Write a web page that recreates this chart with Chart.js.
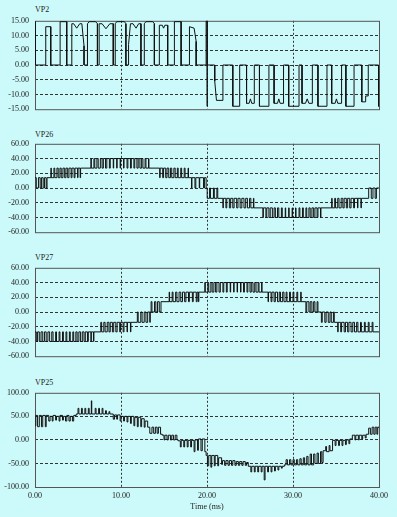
<!DOCTYPE html>
<html>
<head>
<meta charset="utf-8">
<script src="https://cdn.jsdelivr.net/npm/chart.js@4.4.1/dist/chart.umd.min.js"></script>
<style>
body { margin:0; background:#ccfafa; width:397px; height:517px; position:relative; overflow:hidden; font-family:"Liberation Serif", serif; }
canvas { position:absolute; left:0; }
.lbl { position:absolute; left:35px; font-size:8px; line-height:8px; color:#222; }
</style>
</head>
<body>
<div class="lbl" style="top:6px">VP2</div>
<canvas id="vp2" width="397" height="110" style="top:10px"></canvas>
<div class="lbl" style="top:131px">VP26</div>
<canvas id="vp26" width="397" height="110" style="top:133px"></canvas>
<div class="lbl" style="top:254px">VP27</div>
<canvas id="vp27" width="397" height="110" style="top:257px"></canvas>
<div class="lbl" style="top:379px">VP25</div>
<canvas id="vp25" width="397" height="135" style="top:382px"></canvas>
<script>
// tick labels
var xTicks = [0, 10, 20, 30, 40];
var vp2Ticks = [-15, -10, -5, 0, 5, 10, 15];
var vp26Ticks = [-60, -40, -20, 0, 20, 40, 60];
var vp27Ticks = [-60, -40, -20, 0, 20, 40, 60];
var vp25Ticks = [-100, -50, 0, 50, 100];

// VP2 - cell output, drawn point to point (edges are pairs of equal times)
var vp2T = [0, 0.03, 1.25, 1.25, 1.83, 1.83, 2.92, 2.92, 3.69, 3.69,
  4.28, 4.28, 4.5, 4.85, 5.2, 5.45, 5.7, 5.7,
  6.1, 6.1, 6.3, 7.05, 7.26, 7.26,
  7.46, 7.46, 7.8, 8.25, 8.7, 9.1, 9.1,
  9.33, 9.33, 9.5, 10.4, 10.57, 10.57,
  10.88, 10.88, 11.1, 11.4, 11.75, 12.05, 12.32, 12.32,
  12.71, 12.71, 12.9, 13.7, 13.88, 13.88,
  14.46, 14.46, 14.8, 14.95, 15.1, 15.43, 15.43,
  16.21, 16.21, 16.99, 16.99,
  17.96, 17.96, 18.5, 18.74, 18.74,
  19.9, 19.9, 20.0, 20.0, 20.05,
  20.9, 20.9, 21.1, 21.85, 21.85,
  23.0, 23.0, 23.8, 23.8,
  24.6, 24.6, 24.9, 25.05, 25.2, 25.5, 25.5,
  26.1, 26.1, 27.2, 27.2,
  27.8, 27.8, 28.2, 28.35, 28.5, 28.9, 28.9,
  29.5, 29.5, 30.7, 30.7,
  31.05, 31.05, 31.45, 31.65, 31.85, 32.25, 32.25,
  32.9, 32.9, 33.95, 33.95,
  34.5, 34.5, 34.9, 35.05, 35.2, 35.65, 35.65,
  36.15, 36.15, 37.1, 37.1,
  38.0, 38.0, 38.45, 38.45, 38.75, 38.75,
  39.95, 39.95, 40];
var vp2V = [14.7, 0, 0, 13, 13, 0, 0, 14.7, 14.7, 0,
  0, 14, 14, 12.5, 14, 14, 6.5, 0,
  0, 14, 14.7, 14.7, 14, 0,
  0, 14, 14, 12.3, 14, 14, 0,
  0, 14, 14.7, 14.7, 14, 0,
  0, 7, 14, 14, 12.5, 14, 14, 0,
  0, 14, 14.7, 14.7, 14, 0,
  0, 13.5, 13.5, 12.5, 13.5, 13.5, 0,
  0, 14.7, 14.7, 0,
  0, 13, 12.5, 8, 0,
  0, 15, 15, -14, 0,
  0, -5.5, -12, -12, 0,
  0, -14, -14, 0,
  0, -13, -13, -11.5, -13, -13, 0,
  0, -14, -14, 0,
  0, -13, -13, -11.5, -13, -13, 0,
  0, -14, -14, 0,
  0, -13, -13, -11.5, -13, -13, 0,
  0, -14, -14, 0,
  0, -13, -13, -11.5, -13, -13, 0,
  0, -14, -14, 0,
  0, -12.5, -12.5, -10.5, -10.5, 0,
  0, -14, -14];

// VP26 - stepped, each value holds until the next time
var vp26T = [0, 0.15, 0.4, 0.6, 0.75, 0.95, 1.1, 1.3, 1.4, 1.85,
  1.9, 2.2, 2.3, 2.55, 2.7, 2.9, 3.05, 3.25, 3.45, 3.6,
  3.8, 3.95, 4.2, 4.3, 4.55, 4.65, 4.95, 5.0, 5.25, 5.3,
  6.5, 6.55, 6.85, 6.95, 7.2, 7.35, 7.6, 7.8, 7.95, 8.2,
  8.35, 8.65, 8.75, 9.1, 9.15, 9.5, 9.55, 9.9, 9.95, 10.3,
  10.35, 10.7, 10.8, 11.1, 11.2, 11.5, 11.6, 11.85, 12.0, 12.2,
  12.4, 12.55, 12.8, 12.9, 13.2, 13.25, 14.5, 14.55, 14.85, 14.95,
  15.2, 15.35, 15.55, 15.75, 15.9, 16.15, 16.3, 16.55, 16.65, 16.95,
  17.05, 17.35, 17.45, 17.8, 17.85, 18.2, 18.25, 18.6, 18.7, 19.1,
  19.15, 19.6, 19.7, 19.9, 20.02, 20.3, 20.4, 20.75, 20.85, 21.15,
  21.25, 21.85, 21.9, 22.2, 22.3, 22.6, 22.75, 23.0, 23.15, 23.45,
  23.6, 23.85, 24.05, 24.3, 24.5, 24.7, 24.95, 25.1, 25.4, 25.45,
  26.5, 26.55, 26.85, 26.95, 27.2, 27.35, 27.6, 27.8, 27.95, 28.2,
  28.35, 28.65, 28.75, 29.1, 29.15, 29.5, 29.55, 29.9, 29.95, 30.3,
  30.35, 30.7, 30.8, 31.1, 31.2, 31.5, 31.6, 31.85, 32.0, 32.2,
  32.4, 32.55, 32.8, 32.9, 33.2, 33.25, 34.5, 34.55, 34.85, 34.95,
  35.2, 35.35, 35.6, 35.8, 35.95, 36.2, 36.35, 36.6, 36.75, 37.05,
  37.15, 37.5, 37.55, 37.9, 37.95, 38.8, 39.1, 39.3, 39.55, 39.7,
  40];
var vp26V = [14, 0, 14, 0, 14, 0, 14, 0, 14, 27,
  14, 27, 14, 27, 14, 27, 14, 27, 14, 27,
  14, 27, 14, 27, 14, 27, 14, 27, 14, 27,
  40, 27, 40, 27, 40, 27, 40, 27, 40, 27,
  40, 27, 40, 27, 40, 27, 40, 27, 40, 27,
  40, 27, 40, 27, 40, 27, 40, 27, 40, 27,
  40, 27, 40, 27, 40, 27, 14, 27, 14, 27,
  14, 27, 14, 27, 14, 27, 14, 27, 14, 27,
  14, 27, 14, 27, 14, 0, 14, 0, 14, 0,
  14, 0, 14, 0, -14, 0, -14, 0, -14, 0,
  -14, -27, -14, -27, -14, -27, -14, -27, -14, -27,
  -14, -27, -14, -27, -14, -27, -14, -27, -14, -27,
  -40, -27, -40, -27, -40, -27, -40, -27, -40, -27,
  -40, -27, -40, -27, -40, -27, -40, -27, -40, -27,
  -40, -27, -40, -27, -40, -27, -40, -27, -40, -27,
  -40, -27, -40, -27, -40, -27, -14, -27, -14, -27,
  -14, -27, -14, -27, -14, -27, -14, -27, -14, -27,
  -14, -27, -14, -27, -14, 0, -14, 0, -14, 0,
  0];

// VP27 - stepped
var vp27T = [0, 0.15, 0.3, 0.5, 0.7, 0.9, 1.1, 1.3, 1.5, 1.7,
  1.95, 2.1, 2.4, 2.5, 2.8, 2.9, 3.2, 3.3, 3.6, 3.7,
  4.0, 4.1, 4.4, 4.5, 4.75, 4.9, 5.1, 5.3, 5.5, 5.7,
  5.85, 6.1, 6.2, 6.5, 6.55, 6.8, 6.85, 7.65, 7.75, 8.0,
  8.15, 8.4, 8.6, 8.75, 9.0, 9.15, 9.4, 9.55, 9.85, 9.95,
  10.25, 10.35, 10.7, 10.75, 11.1, 11.15, 11.9, 12.0, 12.3, 12.45,
  12.7, 12.9, 13.1, 13.35, 13.4, 13.5, 13.6, 13.9, 14.05, 14.25,
  14.45, 14.65, 15.6, 15.65, 15.95, 16.05, 16.35, 16.5, 16.75, 16.95,
  17.15, 17.4, 17.55, 17.85, 17.95, 18.3, 18.4, 18.75, 18.85, 19.0,
  19.05, 19.75, 19.8, 20.1, 20.2, 20.45, 20.6, 20.8, 21.0, 21.15,
  21.4, 21.55, 21.85, 21.95, 22.25, 22.35, 22.7, 22.75, 23.1, 23.15,
  23.5, 23.55, 23.9, 23.95, 24.25, 24.35, 24.65, 24.75, 25.0, 25.15,
  25.35, 25.55, 25.7, 25.95, 26.05, 26.35, 26.4, 27.1, 27.15, 27.45,
  27.55, 27.8, 27.95, 28.2, 28.4, 28.55, 28.8, 28.95, 29.2, 29.3,
  29.6, 29.7, 30.0, 30.1, 30.45, 30.55, 30.9, 30.95, 31.5, 31.6,
  31.85, 32.0, 32.2, 32.4, 32.55, 32.8, 32.9, 33.3, 33.4, 33.7,
  33.85, 34.1, 34.3, 34.45, 34.7, 34.8, 35.2, 35.25, 35.55, 35.65,
  35.95, 36.1, 36.35, 36.5, 36.75, 36.95, 37.15, 37.4, 37.55, 37.85,
  37.95, 38.3, 38.4, 38.75, 38.85, 39.2, 39.3, 40];
var vp27V = [-27, -40, -27, -40, -27, -40, -27, -40, -27, -40,
  -27, -40, -27, -40, -27, -40, -27, -40, -27, -40,
  -27, -40, -27, -40, -27, -40, -27, -40, -27, -40,
  -27, -40, -27, -40, -27, -40, -27, -14, -27, -14,
  -27, -14, -27, -14, -27, -14, -27, -14, -27, -14,
  -27, -14, -27, -14, -27, -14, 0, -14, 0, -14,
  0, -14, 0, -14, 0, 14, 0, 14, 0, 14,
  0, 14, 27, 14, 27, 14, 27, 14, 27, 14,
  27, 14, 27, 14, 27, 14, 27, 14, 27, 14,
  27, 40, 27, 40, 27, 40, 27, 40, 27, 40,
  27, 40, 27, 40, 27, 40, 27, 40, 27, 40,
  27, 40, 27, 40, 27, 40, 27, 40, 27, 40,
  27, 40, 27, 40, 27, 40, 27, 14, 27, 14,
  27, 14, 27, 14, 27, 14, 27, 14, 27, 14,
  27, 14, 27, 14, 27, 14, 27, 14, 0, 14,
  0, 14, 0, 14, 0, 14, 0, -14, 0, -14,
  0, -14, 0, -14, 0, -14, -27, -14, -27, -14,
  -27, -14, -27, -14, -27, -14, -27, -14, -27, -14,
  -27, -14, -27, -14, -27, -14, -27, -27];

// VP25 - stepped
var vp25T = [0, 0.1, 0.3, 0.5, 0.75, 0.9, 1.2, 1.3, 1.6, 1.75,
  2.0, 2.1, 2.4, 2.5, 2.8, 2.9, 3.2, 3.3, 3.55, 3.7,
  3.95, 4.1, 4.35, 4.5, 4.8, 5.0, 5.1, 5.4, 5.5, 5.8,
  5.9, 6.2, 6.3, 6.55, 6.6, 7.0, 7.1, 7.4, 7.5, 7.8,
  7.9, 8.2, 8.3, 8.6, 8.7, 9.1, 9.25, 9.5, 9.6, 9.9,
  10.0, 10.3, 10.4, 10.7, 10.8, 11.1, 11.2, 11.5, 11.6, 11.9,
  12.0, 12.3, 12.4, 12.7, 12.8, 13.1, 13.35, 13.6, 13.8, 14.0,
  14.2, 14.35, 14.6, 14.8, 15.0, 15.1, 15.35, 15.5, 15.75, 15.9,
  16.1, 16.3, 16.5, 16.65, 16.9, 17.0, 17.3, 17.4, 17.7, 17.8,
  18.1, 18.2, 18.5, 18.6, 18.9, 19.0, 19.3, 19.45, 19.75, 19.9,
  20.05, 20.2, 20.45, 20.55, 20.85, 20.95, 21.25, 21.35, 21.7, 21.8,
  22.05, 22.2, 22.45, 22.6, 22.85, 23.0, 23.25, 23.4, 23.65, 23.8,
  24.05, 24.2, 24.45, 24.6, 24.8, 25.1, 25.2, 25.5, 25.6, 25.9,
  26.0, 26.3, 26.4, 26.65, 26.75, 27.05, 27.15, 27.45, 27.55, 27.85,
  27.95, 28.25, 28.35, 28.65, 28.75, 29.0, 29.2, 29.35, 29.6, 29.75,
  30.0, 30.15, 30.4, 30.55, 30.8, 30.95, 31.2, 31.35, 31.6, 31.75,
  32.0, 32.15, 32.4, 32.55, 32.8, 32.95, 33.2, 33.35, 33.5, 33.8,
  33.9, 34.2, 34.3, 34.6, 34.9, 35.0, 35.3, 35.4, 35.7, 35.8,
  36.1, 36.2, 36.5, 36.6, 36.9, 37.2, 37.3, 37.6, 37.7, 38.0,
  38.1, 38.4, 38.5, 38.8, 39.0, 39.2, 39.4, 39.55, 39.75, 39.85,
  40];
var vp25V = [30, 52, 28, 52, 28, 52, 28, 52, 40, 50,
  40, 52, 42, 50, 40, 52, 42, 50, 40, 52,
  40, 50, 40, 52, 55, 67, 55, 67, 55, 67,
  55, 67, 55, 83, 55, 67, 55, 67, 55, 67,
  55, 62, 55, 60, 55, 44, 53, 44, 53, 40,
  50, 40, 50, 38, 50, 35, 50, 30, 48, 28,
  48, 28, 45, 27, 40, 27, 14, 27, 14, 27,
  14, 27, 12, 10, 0, 10, 0, 10, 0, 10,
  0, 10, 0, -2, -15, -1, -15, -1, -15, -1,
  -15, -1, -25, 0, -22, 2, -23, 2, -25, -33,
  -55, -33, -58, -33, -55, -33, -55, -38, -52, -44,
  -54, -44, -54, -44, -54, -44, -54, -46, -54, -46,
  -54, -46, -54, -48, -56, -68, -56, -68, -56, -68,
  -56, -68, -56, -85, -56, -68, -56, -68, -56, -66,
  -56, -64, -56, -60, -56, -53, -42, -53, -42, -53,
  -42, -53, -42, -53, -40, -53, -38, -53, -35, -53,
  -30, -53, -30, -50, -28, -50, -25, -48, -23, -14,
  -25, -12, -23, -1, -12, -1, -12, -1, -12, -1,
  -10, 0, -8, 2, 10, 0, 10, 0, 10, 2,
  10, 4, 12, 25, 12, 27, 12, 27, 12, 27,
  25];

var tickFont = { family: 'Liberation Serif', size: 8 };

// plot box
var frame = {
  id: 'frame',
  beforeDatasetsDraw: function(chart) {
    var a = chart.chartArea, c = chart.ctx;
    c.save();
    c.strokeStyle = '#555';
    c.lineWidth = 1;
    c.strokeRect(a.left + 0.5, a.top + 0.5, a.right - a.left, a.bottom - a.top);
    c.restore();
  }
};

function inner(ticks) {
  var lo = ticks[0], hi = ticks[ticks.length - 1];
  return function(ctx) {
    if (!ctx.tick) return 'rgba(0,0,0,0)';
    return (ctx.tick.value === lo || ctx.tick.value === hi) ? 'rgba(0,0,0,0)' : '#333';
  };
}

function makePanel(id, times, values, yTicks, stepped, showX) {
  var pts = times.map(function(t, i) { return { x: t, y: values[i] }; });
  return new Chart(document.getElementById(id), {
    type: 'line',
    data: {
      datasets: [{
        data: pts,
        borderColor: '#111',
        borderWidth: 1,
        pointRadius: 0,
        fill: false,
        tension: 0,
        stepped: stepped
      }]
    },
    options: {
      responsive: false,
      animation: false,
      events: [],
      layout: { padding: { top: 10, right: 18, bottom: showX ? 0 : 5, left: 0 } },
      plugins: { legend: { display: false }, tooltip: { enabled: false } },
      scales: {
        x: {
          type: 'linear',
          min: xTicks[0],
          max: xTicks[xTicks.length - 1],
          afterBuildTicks: function(s) { s.ticks = xTicks.map(function(v) { return { value: v }; }); },
          ticks: {
            display: showX,
            padding: 4,
            maxRotation: 0,
            autoSkip: false,
            color: '#222',
            font: tickFont,
            callback: function(v) { return Number(v).toFixed(2); }
          },
          grid: { drawTicks: false, lineWidth: 1, color: inner(xTicks), borderDash: [2, 2] },
          border: { display: false, dash: [2, 2] },
          title: { display: showX, text: 'Time (ms)', color: '#222', font: tickFont, padding: { top: 0, bottom: 5 } },
          afterFit: function(s) { s.height = showX ? 30 : 0; }
        },
        y: {
          min: yTicks[0],
          max: yTicks[yTicks.length - 1],
          afterBuildTicks: function(s) { s.ticks = yTicks.map(function(v) { return { value: v }; }); },
          ticks: {
            padding: 6,
            color: '#222',
            font: tickFont,
            callback: function(v) { return Number(v).toFixed(2); }
          },
          grid: { drawTicks: false, lineWidth: 1, color: inner(yTicks), borderDash: [3, 2] },
          border: { display: false, dash: [3, 2] },
          afterFit: function(s) { s.width = 35; }
        }
      }
    },
    plugins: [frame]
  });
}

// stepped 'before': each value holds until the next time
makePanel('vp2', vp2T, vp2V, vp2Ticks, false, false);
makePanel('vp26', vp26T, vp26V, vp26Ticks, 'before', false);
makePanel('vp27', vp27T, vp27V, vp27Ticks, 'before', false);
makePanel('vp25', vp25T, vp25V, vp25Ticks, 'before', true);
</script>
</body>
</html>
